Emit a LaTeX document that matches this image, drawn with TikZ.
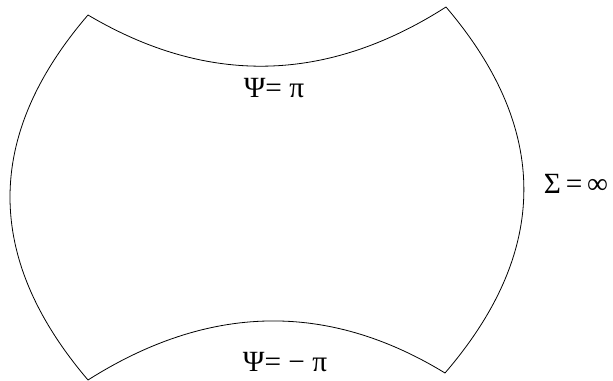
\documentclass[tikz,border=0pt]{standalone}
\usepackage{fontspec}
\setmainfont{Liberation Serif}
\usepackage{tikz}

\begin{document}
\begin{tikzpicture}[
    x=0.75pt, y=-0.75pt,
    every node/.style={font=\fontsize{22}{26}\selectfont, inner sep=0pt},
    edge/.style={line width=0.6pt, black},
    lbl/.style={anchor=center}
]

\useasboundingbox (0,0) rectangle (613,381);

% corners
\coordinate (tl) at (88,15);
\coordinate (tr) at (446,7);
\coordinate (bl) at (88,380);
\coordinate (br) at (445,373);

% boundary
\draw[edge] (tl) .. controls (208,86) and (327,83) .. (tr);
\draw[edge] (tr) .. controls (550,129) and (550,251) .. (br);
\draw[edge] (bl) .. controls (208,304) and (327,301) .. (br);
\draw[edge] (tl) .. controls (-16,136) and (-16,258) .. (bl);

\node[lbl] (top) at (274,88) {Ψ= π};
\node[lbl] (bot) at (285,362) {Ψ= − π};
\node[lbl] (sig) at (576,184) {Σ\,=\,∞};

\end{tikzpicture}
\end{document}
